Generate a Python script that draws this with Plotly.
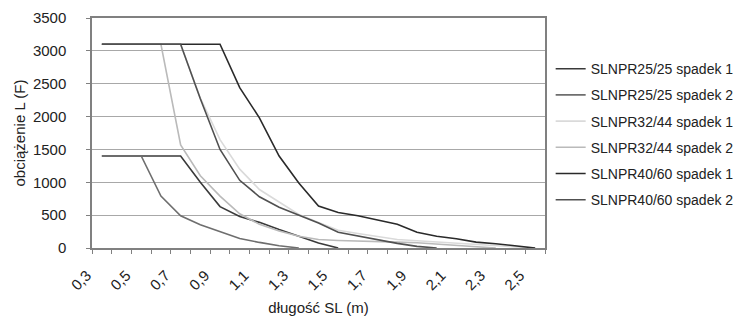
import plotly.graph_objects as go

# długość SL (m) categories
lengths = [0.3, 0.4, 0.5, 0.6, 0.7, 0.8, 0.9, 1.0, 1.1, 1.2, 1.3, 1.4,
           1.5, 1.6, 1.7, 1.8, 1.9, 2.0, 2.1, 2.2, 2.3, 2.4, 2.5]

slnpr25_25_s1 = [1400, 1400, 1400, 1400, 1400, 1000, 630, 480, 390, 280, 175, 75,
                 0, None, None, None, None, None, None, None, None, None, None]
slnpr25_25_s2 = [1400, 1400, 1400, 790, 490, 355, 245, 145, 85, 35, 0, None,
                 None, None, None, None, None, None, None, None, None, None, None]
slnpr32_44_s1 = [3100, 3100, 3100, 3100, 3100, 2280, 1650, 1200, 890, 700, 510, 390,
                 270, 220, 170, 130, 110, 90, 70, 50, 30, 10, 0]
slnpr32_44_s2 = [3100, 3100, 3100, 3100, 1570, 1100, 790, 520, 360, 260, 180, 130,
                 115, 110, 100, 90, 80, 60, 40, 20, 0, None, None]
slnpr40_60_s1 = [3100, 3100, 3100, 3100, 3100, 3100, 3100, 2440, 1980, 1400, 990, 640,
                 540, 490, 430, 360, 240, 180, 140, 90, 65, 35, 0]
slnpr40_60_s2 = [3100, 3100, 3100, 3100, 3100, 2270, 1500, 1030, 780, 620, 500, 380,
                 240, 180, 120, 70, 25, 0, None, None, None, None, None]

series_names = ["SLNPR25/25 spadek 1", "SLNPR25/25 spadek 2",
                "SLNPR32/44 spadek 1", "SLNPR32/44 spadek 2",
                "SLNPR40/60 spadek 1", "SLNPR40/60 spadek 2"]
series_values = [slnpr25_25_s1, slnpr25_25_s2, slnpr32_44_s1,
                 slnpr32_44_s2, slnpr40_60_s1, slnpr40_60_s2]
series_colors = ["#3a3a3a", "#6e6e6e", "#dadada", "#bababa", "#2a2a2a", "#505050"]

x_tick_vals = [0.3, 0.5, 0.7, 0.9, 1.1, 1.3, 1.5, 1.7, 1.9, 2.1, 2.3, 2.5]
x_tick_text = ["0,3", "0,5", "0,7", "0,9", "1,1", "1,3", "1,5", "1,7", "1,9", "2,1", "2,3", "2,5"]
x_minor_ticks = [round(0.25 + 0.1 * i, 2) for i in range(24)]

FONT = "Liberation Sans, Arial, sans-serif"
TXT = "#222222"

fig = go.Figure()
for name, vals, col in zip(series_names, series_values, series_colors):
    fig.add_trace(go.Scatter(x=lengths, y=vals, mode="lines", name=name,
                             line=dict(color=col, width=1.6),
                             legendgroup=name, connectgaps=False))

fig.update_layout(
    width=740, height=326,
    margin=dict(l=92, r=195, t=18, b=78, autoexpand=False),
    paper_bgcolor="white", plot_bgcolor="white",
    font=dict(family=FONT, size=15, color=TXT),
    showlegend=True,
    legend=dict(x=1.0125, y=0.493, xanchor="left", yanchor="middle",
                font=dict(size=14, color=TXT), tracegroupgap=5,
                bgcolor="rgba(0,0,0,0)"),
    xaxis=dict(range=[0.25, 2.55], tickvals=x_tick_vals, ticktext=x_tick_text,
               tickangle=-45, ticks="", showgrid=False, zeroline=False,
               showline=True, linecolor="#808080", linewidth=1.5, mirror=True,
               tickfont=dict(size=15, color=TXT), automargin=False,
               ticklabelstandoff=11, ticklabelshift=-15,
               minor=dict(tickvals=x_minor_ticks, ticks="outside", ticklen=4,
                          tickcolor="#808080", tickwidth=1, showgrid=False),
               title=dict(text="długość SL (m)", standoff=10,
                          font=dict(size=15, color=TXT))),
    yaxis=dict(range=[0, 3500], dtick=500, ticks="outside", ticklen=4,
               tickcolor="#808080", showgrid=True, gridcolor="#a8a8a8", gridwidth=1,
               zeroline=False, showline=True, linecolor="#808080", linewidth=1.5,
               mirror=True, tickfont=dict(size=15, color=TXT), automargin=False,
               ticklabelstandoff=17,
               title=dict(text="obciążenie L (F)", standoff=4,
                          font=dict(size=15, color=TXT))),
)

fig.write_html("out.html", config={"displayModeBar": False},
               post_script="document.body.style.margin='0';")
